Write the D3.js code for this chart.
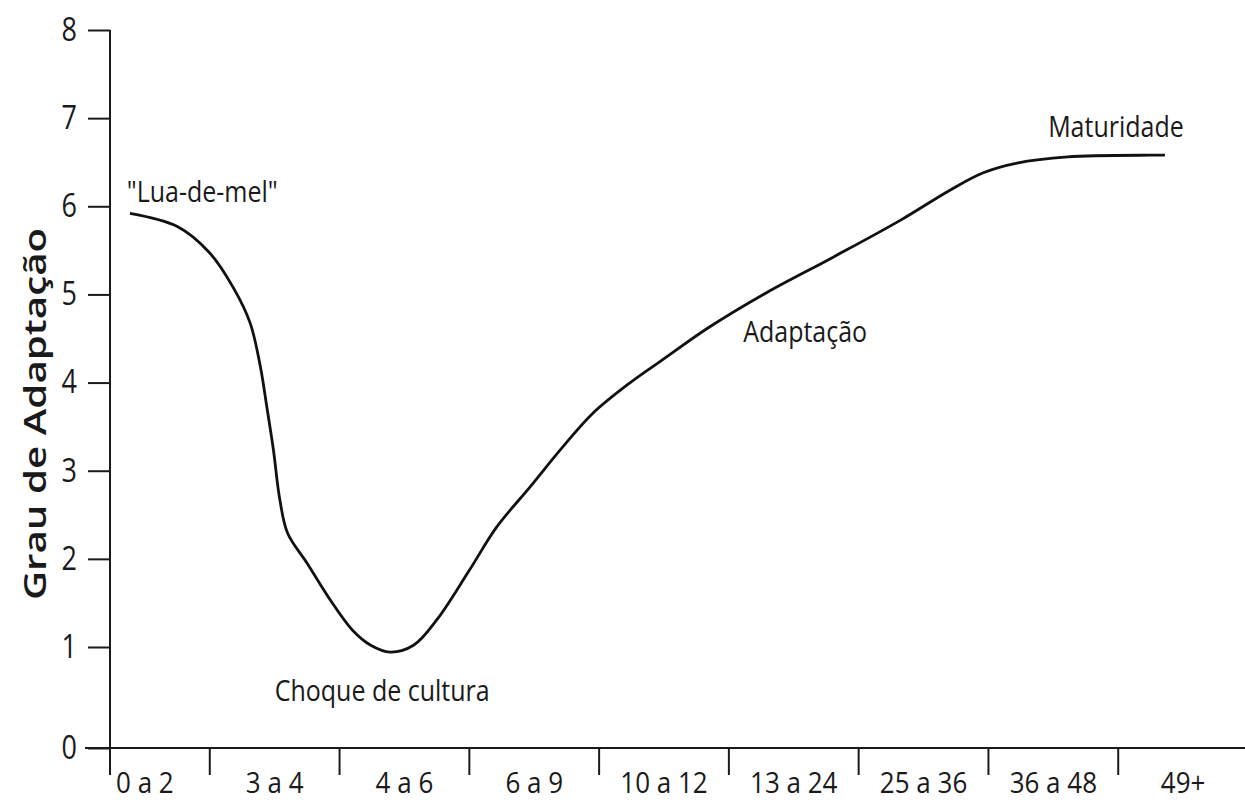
<!DOCTYPE html>
<html>
<head>
<meta charset="utf-8">
<script src="https://cdn.jsdelivr.net/npm/d3@7"></script>
<style>
  html, body { margin: 0; padding: 0; background: #ffffff; }
  svg { display: block; }
  text { font-family: "Open Sans", "Noto Sans", sans-serif; fill: #1a1a1a; }
</style>
</head>
<body>
<svg id="chart" width="1245" height="805"></svg>
<script>
// ---- data ----
const categories = ["0 a 2", "3 a 4", "4 a 6", "6 a 9", "10 a 12", "13 a 24", "25 a 36", "36 a 48", "49+"];
const yTicks = [0, 1, 2, 3, 4, 5, 6, 7, 8];
// curve position measured in category-band units (0 = left edge of first band)
const curveT = [0.385, 0.75, 1.0, 1.18, 1.31, 1.39, 1.44, 1.49, 1.54, 1.60, 1.75, 1.93, 2.10, 2.24, 2.39, 2.57, 2.75, 3.0, 3.21, 3.47, 3.72, 3.95, 4.24, 4.49, 4.85, 5.29, 5.80, 6.32, 6.70, 6.96, 7.22, 7.61, 8.25, 8.36];
const curveV = [5.92, 5.77, 5.47, 5.08, 4.68, 4.18, 3.72, 3.24, 2.67, 2.29, 1.95, 1.53, 1.19, 1.02, 0.95, 1.02, 1.31, 1.87, 2.36, 2.82, 3.27, 3.65, 4.0, 4.26, 4.63, 5.02, 5.42, 5.84, 6.18, 6.38, 6.49, 6.56, 6.58, 6.58];
const annotations = [
  { text: "\"Lua-de-mel\"", t: 0.36, v: 6.05 },
  { text: "Choque de cultura", t: 1.50, v: 0.47 },
  { text: "Adaptação", t: 5.11, v: 4.46 },
  { text: "Maturidade", t: 7.46, v: 6.79 }
];
const yTitle = "Grau de Adaptação";

// ---- scales ----
const svg = d3.select("#chart");
const xBand = d3.scaleBand().domain(categories).range([80, 1248]).paddingInner(0).paddingOuter(0);
const xT = d3.scaleLinear().domain([0, categories.length]).range(xBand.range());
const y = d3.scaleLinear().domain([0, 1, 8]).range([748, 647, 30]);
const axisX = 110;
const stretch = 1.2; // the printed lettering is taller than it is wide

// ---- y axis ----
const gy = svg.append("g").attr("transform", `translate(${axisX},0)`)
  .call(d3.axisLeft(y).tickValues(yTicks).tickFormat(d3.format("d")).tickSize(22).tickPadding(11).tickSizeOuter(0));
gy.select(".domain").remove();
gy.selectAll(".tick line").attr("stroke", "#1a1a1a").attr("stroke-width", 2);
gy.selectAll(".tick text").attr("font-size", 27).attr("fill", "#1a1a1a")
  .attr("transform", `scale(1,${stretch})`);
svg.append("line")
  .attr("x1", axisX).attr("x2", axisX)
  .attr("y1", y(8)).attr("y2", y(0) + 27)
  .attr("stroke", "#1a1a1a").attr("stroke-width", 2);

// ---- x axis ----
svg.append("line")
  .attr("x1", 85).attr("x2", 1245)
  .attr("y1", y(0)).attr("y2", y(0))
  .attr("stroke", "#1a1a1a").attr("stroke-width", 2);
const gx = svg.append("g").attr("transform", `translate(0,${y(0)})`)
  .call(d3.axisBottom(xBand).tickSize(0).tickPadding(0));
gx.select(".domain").remove();
gx.selectAll(".tick text").attr("font-size", 26).attr("fill", "#1a1a1a")
  .attr("dy", 0).attr("y", 45 / 1.12)
  .attr("transform", `scale(1,1.12)`);
svg.append("g").selectAll("line")
  .data(categories.slice(1))
  .join("line")
  .attr("x1", d => xBand(d)).attr("x2", d => xBand(d))
  .attr("y1", y(0)).attr("y2", y(0) + 27)
  .attr("stroke", "#1a1a1a").attr("stroke-width", 2);

// ---- axis title ----
svg.append("text")
  .attr("transform", `translate(46,414) rotate(-90) scale(1.3,1)`)
  .attr("text-anchor", "middle")
  .attr("font-size", 31)
  .attr("font-weight", 600)
  .text(yTitle);

// ---- curve ----
const pts = curveT.map((t, i) => [xT(t), y(curveV[i])]);
svg.append("path")
  .attr("d", d3.line().curve(d3.curveCatmullRom.alpha(0.5))(pts))
  .attr("fill", "none")
  .attr("stroke", "#111")
  .attr("stroke-width", 2.8);

// ---- annotations ----
svg.append("g").selectAll("text")
  .data(annotations)
  .join("text")
  .attr("transform", d => `translate(${xT(d.t)},${y(d.v)}) scale(1,${stretch})`)
  .attr("font-size", 25)
  .text(d => d.text);
</script>
</body>
</html>
